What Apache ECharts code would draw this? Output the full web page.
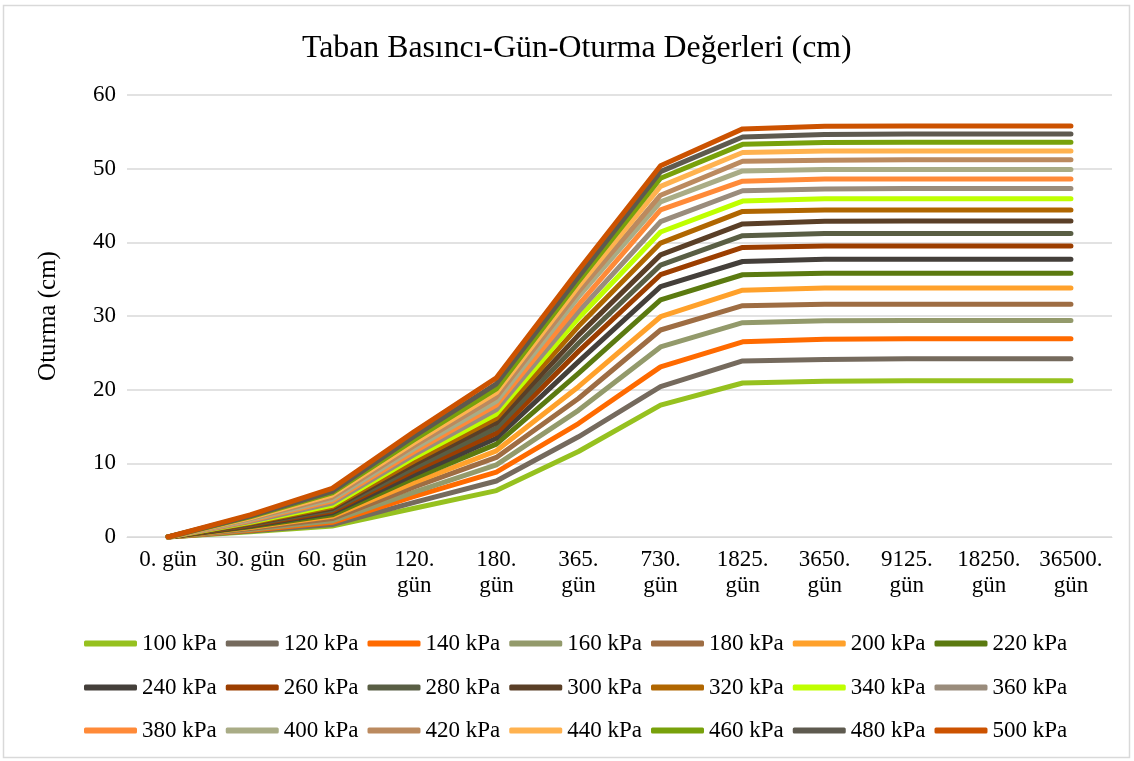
<!DOCTYPE html>
<html>
<head>
<meta charset="utf-8">
<script src="https://cdn.jsdelivr.net/npm/echarts@6/dist/echarts.min.js"></script>
<style>
  html, body { margin: 0; padding: 0; background: #ffffff; }
  #chart { width: 1134px; height: 761px; }
</style>
</head>
<body>
<div id="chart"></div>
<script>
// Time steps (days after loading)
const categories = ['0. gün', '30. gün', '60. gün', '120. gün', '180. gün', '365. gün',
  '730. gün', '1825. gün', '3650. gün', '9125. gün', '18250. gün', '36500. gün'];

// Settlement (cm) for each foundation pressure
const s100 = [0, 0.7, 1.5, 3.9, 6.3, 11.6, 17.9, 20.9, 21.15, 21.2, 21.2, 21.2];
const s120 = [0, 0.8, 1.7, 4.7, 7.6, 13.6, 20.4, 23.9, 24.1, 24.2, 24.2, 24.2];
const s140 = [0, 0.9, 2.0, 5.5, 8.8, 15.4, 23.1, 26.5, 26.85, 26.9, 26.9, 26.9];
const s160 = [0, 1.0, 2.2, 6.1, 9.8, 17.2, 25.8, 29.1, 29.35, 29.4, 29.4, 29.4];
const s180 = [0, 1.15, 2.5, 6.8, 10.8, 18.8, 28.1, 31.4, 31.6, 31.6, 31.6, 31.6];
const s200 = [0, 1.3, 2.8, 7.4, 11.7, 20.4, 29.9, 33.5, 33.8, 33.8, 33.8, 33.8];
const s220 = [0, 1.4, 3.0, 8.0, 12.6, 22.2, 32.2, 35.6, 35.8, 35.8, 35.8, 35.8];
const s240 = [0, 1.5, 3.3, 8.5, 13.4, 23.8, 34.0, 37.4, 37.7, 37.7, 37.7, 37.7];
const s260 = [0, 1.6, 3.5, 9.0, 14.1, 25.2, 35.6, 39.3, 39.5, 39.5, 39.5, 39.5];
const s280 = [0, 1.7, 3.7, 9.4, 14.8, 26.3, 36.9, 40.9, 41.2, 41.2, 41.2, 41.2];
const s300 = [0, 1.8, 3.9, 9.9, 15.5, 27.4, 38.3, 42.5, 42.85, 42.9, 42.9, 42.9];
const s320 = [0, 1.9, 4.1, 10.3, 16.1, 28.6, 39.9, 44.2, 44.4, 44.4, 44.4, 44.4];
const s340 = [0, 2.0, 4.3, 10.8, 16.7, 29.7, 41.4, 45.6, 45.9, 45.9, 45.9, 45.9];
const s360 = [0, 2.1, 4.6, 11.2, 17.3, 30.6, 42.8, 47.0, 47.25, 47.3, 47.3, 47.3];
const s380 = [0, 2.25, 4.9, 11.6, 17.9, 31.5, 44.4, 48.3, 48.6, 48.6, 48.6, 48.6];
const s400 = [0, 2.35, 5.1, 12.0, 18.4, 32.6, 45.5, 49.7, 49.9, 49.9, 49.9, 49.9];
const s420 = [0, 2.5, 5.4, 12.4, 19.0, 33.3, 46.4, 51.0, 51.15, 51.2, 51.2, 51.2];
const s440 = [0, 2.6, 5.7, 12.8, 19.6, 34.0, 47.6, 52.2, 52.4, 52.4, 52.4, 52.4];
const s460 = [0, 2.75, 6.0, 13.2, 20.1, 34.7, 48.7, 53.3, 53.55, 53.6, 53.6, 53.6];
const s480 = [0, 2.85, 6.2, 13.7, 20.8, 35.3, 49.6, 54.3, 54.65, 54.7, 54.7, 54.7];
const s500 = [0, 3.0, 6.6, 14.3, 21.6, 36.2, 50.4, 55.4, 55.75, 55.8, 55.8, 55.8];

const seriesNames = ['100 kPa', '120 kPa', '140 kPa', '160 kPa', '180 kPa', '200 kPa', '220 kPa',
  '240 kPa', '260 kPa', '280 kPa', '300 kPa', '320 kPa', '340 kPa', '360 kPa',
  '380 kPa', '400 kPa', '420 kPa', '440 kPa', '460 kPa', '480 kPa', '500 kPa'];
const seriesData = [s100, s120, s140, s160, s180, s200, s220, s240, s260, s280, s300,
  s320, s340, s360, s380, s400, s420, s440, s460, s480, s500];
const seriesColors = ['#96C11F', '#756A5D', '#FF6A00', '#939A6B', '#9E6D43', '#FFA12B', '#5B7A10',
  '#443F3A', '#9C3E00', '#595E44', '#5A3F27', '#B06600', '#BFFF00', '#9A8C7C',
  '#FF8A38', '#A9AC86', '#BB8A5F', '#FFB24F', '#78A10B', '#5E5A4F', '#CC5200'];

const yTicks = { min: 0, max: 60, interval: 10 };
const FONT = "'Liberation Serif', 'Times New Roman', serif";

const chart = echarts.init(document.getElementById('chart'), null, { renderer: 'canvas' });

const series = seriesNames.map((name, i) => ({
  name: name,
  type: 'line',
  data: seriesData[i],
  symbol: 'none',
  showSymbol: false,
  animation: false,
  lineStyle: { width: 5, color: seriesColors[i], cap: 'round', join: 'round' },
  itemStyle: { color: seriesColors[i] }
}));

function legendRow(names, top) {
  return {
    data: names,
    top: top,
    left: 79,
    orient: 'horizontal',
    icon: 'roundRect',
    itemWidth: 53,
    itemHeight: 6,
    itemGap: 9,
    selectedMode: false,
    textStyle: { fontFamily: FONT, fontSize: 23, color: '#000000' }
  };
}

chart.setOption({
  backgroundColor: '#ffffff',
  animation: false,
  title: {
    text: 'Taban Basıncı-Gün-Oturma Değerleri (cm)',
    left: 297,
    top: 28,
    textStyle: { fontFamily: FONT, fontSize: 31.8, fontWeight: 'normal', color: '#000000' }
  },
  grid: { left: 127, right: 22, top: 95, bottom: 224, containLabel: false },
  legend: [
    legendRow(seriesNames.slice(0, 7), 627),
    legendRow(seriesNames.slice(7, 14), 671),
    legendRow(seriesNames.slice(14, 21), 714)
  ],
  xAxis: {
    type: 'category',
    data: categories,
    boundaryGap: true,
    axisLine: { show: true, lineStyle: { color: '#d9d9d9', width: 1 } },
    axisTick: { show: false },
    axisLabel: {
      fontFamily: FONT, fontSize: 23, color: '#000000', margin: 10, lineHeight: 26,
      interval: 0,
      formatter: v => (v.length > 7 ? v.replace(' ', '\n') : v)
    }
  },
  yAxis: {
    type: 'value',
    min: yTicks.min,
    max: yTicks.max,
    interval: yTicks.interval,
    name: 'Oturma (cm)',
    nameLocation: 'middle',
    nameGap: 66,
    nameTextStyle: { fontFamily: FONT, fontSize: 25, color: '#000000' },
    axisLine: { show: false },
    axisTick: { show: false },
    axisLabel: { fontFamily: FONT, fontSize: 23, color: '#000000', margin: 11 },
    splitLine: { lineStyle: { color: '#d9d9d9', width: 1.5 } }
  },
  graphic: [{
    type: 'rect',
    shape: { x: 3.5, y: 5.5, width: 1126, height: 752 },
    style: { fill: 'none', stroke: '#d9d9d9', lineWidth: 1.5 },
    silent: true,
    z: -1
  }],
  series: series
});
</script>
</body>
</html>
